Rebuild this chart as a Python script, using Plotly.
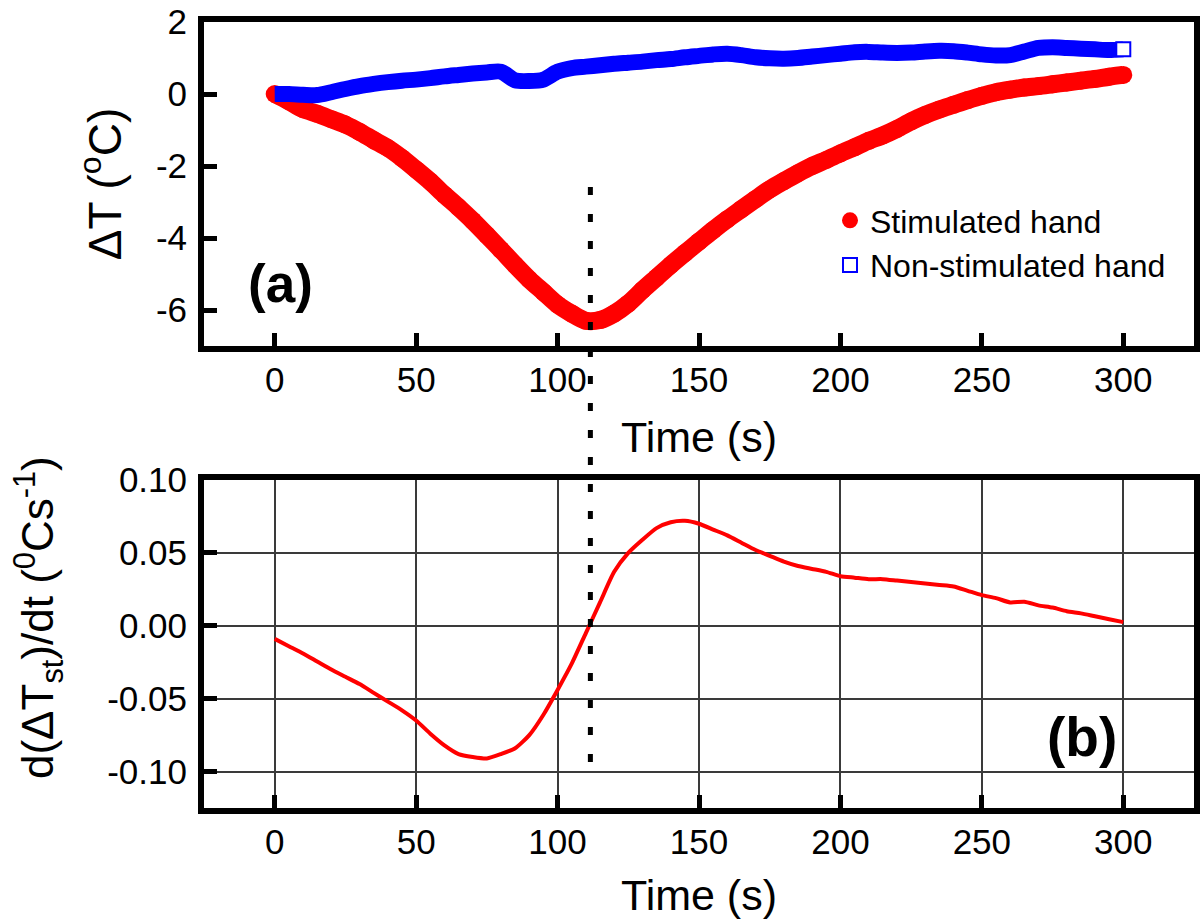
import plotly.graph_objects as go

# ---------------- data ----------------
time_top = list(range(0, 301, 5))
stimulated = [0.0, -0.20, -0.42, -0.55, -0.70, -0.85, -1.05, -1.28, -1.50, -1.78,
              -2.10, -2.43, -2.80, -3.15, -3.52, -3.92, -4.33, -4.75, -5.15, -5.50,
              -5.85, -6.10, -6.30, -6.28, -6.10, -5.82, -5.45, -5.10, -4.75, -4.42,
              -4.10, -3.78, -3.48, -3.20, -2.92, -2.65, -2.42, -2.20, -2.00, -1.83,
              -1.65, -1.48, -1.30, -1.15, -0.97, -0.76, -0.58, -0.43, -0.30, -0.17,
              -0.05, 0.05, 0.12, 0.18, 0.22, 0.27, 0.32, 0.37, 0.42, 0.48, 0.53]
non_stimulated = [0.0, 0.0, -0.02, -0.03, 0.05, 0.14, 0.22, 0.28, 0.33, 0.37,
                  0.40, 0.44, 0.49, 0.53, 0.57, 0.60, 0.62, 0.38, 0.36, 0.40,
                  0.62, 0.72, 0.76, 0.80, 0.84, 0.87, 0.90, 0.94, 0.97, 1.02,
                  1.06, 1.10, 1.12, 1.08, 1.02, 0.99, 0.98, 1.00, 1.04, 1.08,
                  1.12, 1.16, 1.17, 1.15, 1.14, 1.15, 1.18, 1.20, 1.19, 1.15,
                  1.10, 1.07, 1.08, 1.18, 1.28, 1.30, 1.28, 1.26, 1.24, 1.22, 1.24]

time_bottom = list(range(0, 301, 5))
derivative = [-0.009, -0.014, -0.019, -0.0245, -0.030, -0.035, -0.040, -0.046, -0.052, -0.058,
              -0.065, -0.074, -0.082, -0.088, -0.090, -0.091, -0.088, -0.084, -0.075, -0.061,
              -0.044, -0.026, -0.005, 0.016, 0.037, 0.050, 0.059, 0.067, 0.071, 0.072,
              0.070, 0.066, 0.062, 0.057, 0.052, 0.048, 0.044, 0.041, 0.039, 0.037,
              0.034, 0.033, 0.032, 0.032, 0.031, 0.030, 0.029, 0.028, 0.027, 0.024,
              0.021, 0.019, 0.016, 0.0165, 0.014, 0.0125, 0.010, 0.0085, 0.0065, 0.0045, 0.0025]

min_time = 111.6  # time of the temperature minimum (dotted marker line)

x_ticks = [0, 50, 100, 150, 200, 250, 300]
x_ticktext = ["0", "50", "100", "150", "200", "250", "300"]
y1_ticks = [-6, -4, -2, 0, 2]
y1_ticktext = ["-6", "-4", "-2", "0", "2"]
y2_ticks = [-0.10, -0.05, 0.0, 0.05, 0.10]
y2_ticktext = ["-0.10", "-0.05", "0.00", "0.05", "0.10"]

FONT = "Liberation Sans, Arial, sans-serif"
RED = "#ff0000"
BLUE = "#0000ff"

fig = go.Figure()

# top panel
fig.add_trace(go.Scatter(x=time_top, y=stimulated, mode="lines",
                         line=dict(color=RED, width=18, shape="spline", smoothing=0.8),
                         showlegend=False, hoverinfo="skip", xaxis="x", yaxis="y"))
fig.add_trace(go.Scatter(x=time_top, y=stimulated, mode="markers",
                         marker=dict(symbol="circle", size=18, color=RED),
                         name="Stimulated hand", xaxis="x", yaxis="y"))
fig.add_trace(go.Scatter(x=time_top, y=non_stimulated, mode="lines",
                         line=dict(color=BLUE, width=16, shape="spline", smoothing=0.8),
                         showlegend=False, hoverinfo="skip", xaxis="x", yaxis="y"))
fig.add_trace(go.Scatter(x=[time_top[-1]], y=[non_stimulated[-1]], mode="markers",
                         marker=dict(symbol="square", size=14, color="white",
                                     line=dict(color=BLUE, width=2)),
                         name="Non-stimulated hand", xaxis="x", yaxis="y"))

# bottom panel
fig.add_trace(go.Scatter(x=time_bottom, y=derivative, mode="lines",
                         line=dict(color=RED, width=4, shape="spline", smoothing=0.6),
                         showlegend=False, xaxis="x2", yaxis="y2"))

axis_common = dict(ticks="inside", ticklen=13, tickwidth=5, tickcolor="black",
                   showline=True, linewidth=6, linecolor="black", mirror=True,
                   zeroline=False, automargin=False, ticklabeloverflow="allow",
                   tickfont=dict(family=FONT, size=35, color="black"))

XDOM = [204 / 1200, 1194 / 1200]

fig.update_layout(
    width=1200, height=922,
    margin=dict(l=0, r=0, t=0, b=0, autoexpand=False),
    paper_bgcolor="white", plot_bgcolor="white",
    font=dict(family=FONT, color="black"),
    xaxis=dict(domain=XDOM, anchor="y", range=[-25, 325], tickvals=x_ticks,
               ticktext=x_ticktext, showgrid=False, ticklabelstandoff=-2,
               title=dict(text="Time (s)", font=dict(size=43, family=FONT), standoff=26),
               **axis_common),
    yaxis=dict(domain=[1 - 346 / 922, 1 - 22 / 922], anchor="x", range=[-7, 2],
               tickvals=y1_ticks, ticktext=y1_ticktext, showgrid=False, ticklabelstandoff=4,
               title=dict(text="ΔT (<sup>o</sup>C)", font=dict(size=46, family=FONT), standoff=22),
               **axis_common),
    xaxis2=dict(domain=XDOM, anchor="y2", range=[-25, 325], tickvals=x_ticks,
                ticktext=x_ticktext, showgrid=True, gridcolor="#3a3a3a", gridwidth=1.5,
                ticklabelstandoff=-2,
                title=dict(text="Time (s)", font=dict(size=43, family=FONT), standoff=22),
                **axis_common),
    yaxis2=dict(domain=[1 - 808 / 922, 1 - 480 / 922], anchor="x2", range=[-0.125, 0.10],
                tickvals=y2_ticks, ticktext=y2_ticktext, showgrid=True,
                gridcolor="#3a3a3a", gridwidth=1.5, ticklabelstandoff=4, **axis_common),
    legend=dict(x=830 / 1200, y=1 - 193 / 922, xanchor="left", yanchor="top",
                bgcolor="rgba(0,0,0,0)", font=dict(family=FONT, size=32, color="black"),
                tracegroupgap=0),
    showlegend=True,
)

fig.add_shape(type="line", xref="x", yref="paper", x0=min_time, x1=min_time,
              y0=1 - 762 / 922, y1=1 - 175 / 922,
              line=dict(color="black", width=5, dash="8px,19px"))

fig.add_annotation(text="<b>(a)</b>", x=2.1, y=-5.27, xref="x", yref="y",
                   showarrow=False, font=dict(family=FONT, size=53, color="black"),
                   xanchor="center", yanchor="middle")
fig.add_annotation(text="<b>(b)</b>", x=285.5, y=-0.0762, xref="x2", yref="y2",
                   showarrow=False, font=dict(family=FONT, size=55, color="black"),
                   xanchor="center", yanchor="middle")
fig.add_annotation(text="d(ΔT<sub>st</sub>)/dt (<sup>0</sup>Cs<sup>-1</sup>)",
                   x=38 / 1200, y=1 - 618 / 922, xref="paper", yref="paper",
                   textangle=-90, showarrow=False,
                   font=dict(family=FONT, size=44, color="black"),
                   xanchor="center", yanchor="middle")

fig.write_html("out.html")
